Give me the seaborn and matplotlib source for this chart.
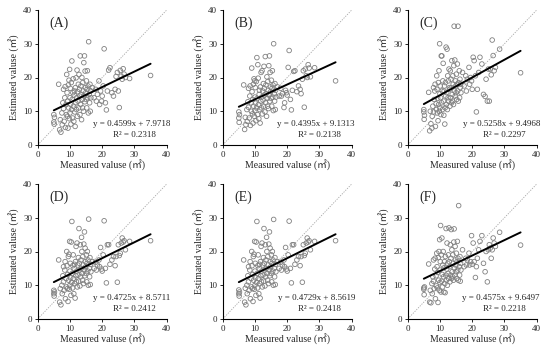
import matplotlib
matplotlib.use("Agg")
import matplotlib.pyplot as plt
import seaborn as sns
import numpy as np
import pandas as pd

# measured value (same for every panel)
measured = [
    5.0, 5.0, 5.1, 5.2,
    6.5, 6.8, 7.0, 7.2, 7.5, 7.6, 7.8, 8.0, 8.0, 8.2, 8.4, 8.5, 8.6, 8.8, 8.9,
    9.0, 9.1, 9.2, 9.3, 9.4, 9.5, 9.6, 9.7, 9.8, 9.9, 10.0, 10.0, 10.1, 10.2, 10.3, 10.4, 10.5, 10.6, 10.7, 10.8, 10.9,
    11.0, 11.1, 11.2, 11.3, 11.4, 11.5, 11.6, 11.7, 11.8, 11.9, 12.0, 12.1, 12.2, 12.3, 12.4, 12.5, 12.6, 12.7, 12.8, 12.9,
    13.0, 13.1, 13.2, 13.3, 13.4, 13.5, 13.6, 13.7, 13.8, 13.9, 14.0, 14.1, 14.2, 14.3, 14.4, 14.5, 14.6, 14.7, 14.8, 14.9,
    15.0, 15.1, 15.2, 15.3, 15.4, 15.5, 15.6, 15.7, 15.8, 16.0, 16.1, 16.2, 16.3, 16.4, 16.5,
    17.0, 17.5, 18.0, 18.2, 18.5, 19.0, 19.2, 19.5, 19.8, 20.0, 20.3, 20.6,
    21.0, 21.3, 21.6, 22.0, 22.4, 23.0, 23.5, 24.0, 24.3, 24.7, 25.0, 25.3,
    25.6, 25.9, 26.2, 26.5, 26.8, 27.2, 28.5,
    35.0,
]

est_a = [
    9.0, 6.8, 6.2, 8.2,
    18.0, 4.5, 7.5, 3.8, 9.5, 6.0, 12.5, 16.5, 10.8, 7.0, 14.0, 17.3, 5.2, 12.0, 9.0,
    20.9, 15.5, 8.5, 13.0, 5.0, 17.8, 11.0, 19.2, 7.8, 22.4, 14.0, 9.5, 16.8, 12.0, 6.2, 18.5, 10.5, 24.9, 13.5, 8.0, 15.5,
    19.6, 11.5, 7.0, 14.8, 16.0, 9.8, 5.5, 17.0, 12.5, 19.9, 10.5, 14.0, 22.2, 8.5, 15.8, 13.0, 18.0, 11.0, 20.9, 16.5,
    14.5, 9.0, 26.4, 12.0, 17.5, 15.0, 7.5, 20.0, 13.5, 11.0, 18.5, 16.0, 10.0, 24.4, 14.5, 26.4, 12.8, 21.9, 17.0, 15.5,
    13.5, 19.0, 11.0, 16.5, 22.0, 14.0, 17.5, 9.5, 30.6, 15.0, 12.5, 18.0, 10.0, 16.0, 14.0,
    17.0, 14.0, 16.5, 13.0, 15.0, 19.0, 12.0, 16.0, 13.0, 14.5, 17.5, 28.5,
    12.5, 10.4, 16.0, 22.2, 22.9, 15.5, 14.5, 16.5, 20.3, 21.5, 16.0, 11.1,
    22.1, 20.4, 19.5, 22.6, 21.0, 20.0, 19.7,
    20.6,
]

est_b = [
    9.8, 8.0, 6.7, 9.0,
    17.8, 4.6, 8.2, 6.0, 10.5, 7.0, 12.8, 16.8, 11.2, 8.0, 14.5, 17.5, 5.8, 12.5, 10.0,
    22.8, 15.8, 9.2, 13.5, 6.5, 18.0, 11.5, 19.6, 8.5, 19.0, 14.2, 10.2, 17.0, 12.4, 7.2, 18.8, 11.0, 25.9, 13.8, 9.0, 23.8,
    19.8, 12.0, 7.8, 15.0, 16.2, 10.5, 6.5, 17.2, 13.0, 21.5, 11.0, 14.2, 22.0, 9.2, 16.0, 13.3, 18.2, 11.5, 23.3, 16.8,
    14.8, 9.8, 26.2, 12.5, 17.8, 15.2, 8.5, 20.2, 13.8, 11.5, 18.8, 16.2, 10.8, 23.5, 14.8, 26.4, 13.0, 21.5, 17.2, 15.8,
    13.8, 19.2, 11.5, 16.8, 22.0, 14.2, 17.8, 10.2, 30.0, 15.2, 13.0, 18.2, 10.5, 16.2, 14.2,
    17.2, 14.5, 16.8, 14.5, 15.2, 11.1, 12.5, 16.2, 15.5, 14.8, 23.0, 28.0,
    13.5, 10.4, 16.2, 21.8, 22.0, 15.8, 17.5, 16.5, 15.2, 19.5, 22.0, 11.2,
    22.5, 20.5, 20.0, 23.8, 22.8, 20.2, 22.9,
    19.0,
]

est_c = [
    10.5, 9.8, 7.6, 8.8,
    15.6, 4.2, 10.0, 6.3, 5.0, 8.5, 11.5, 17.0, 9.8, 13.5, 16.0, 18.0, 5.5, 12.2, 10.5,
    20.5, 16.5, 9.5, 13.8, 7.2, 18.5, 12.0, 22.0, 10.0, 30.0, 15.2, 11.0, 17.5, 14.0, 9.0, 26.4, 12.5, 26.4, 16.0, 10.5, 19.0,
    24.2, 13.0, 8.8, 16.0, 17.5, 6.2, 11.0, 18.5, 14.5, 29.0, 12.0, 15.5, 28.4, 10.5, 20.5, 14.0, 19.0, 13.0, 22.5, 17.0,
    16.5, 11.5, 22.0, 14.0, 19.5, 17.0, 12.5, 25.0, 15.0, 13.0, 20.5, 18.0, 12.0, 23.5, 35.2, 16.0, 25.2, 14.5, 19.0, 17.5,
    15.5, 21.0, 13.5, 18.0, 24.0, 16.0, 35.2, 13.0, 18.5, 22.0, 14.0, 19.5, 17.0, 18.0, 15.5,
    21.5, 17.5, 20.5, 16.0, 19.5, 23.0, 18.0, 20.0, 19.0, 16.5, 26.0, 25.0,
    20.5, 9.8, 16.5, 21.5, 26.0, 24.0, 15.0, 14.4, 19.5, 13.0, 22.5, 13.0,
    22.5, 20.8, 31.1, 26.5, 22.0, 23.0, 28.4,
    21.4,
]

est_d = [
    8.5, 7.5, 6.8, 8.0,
    17.5, 5.0, 9.0, 4.2, 10.0, 7.5, 12.8, 15.5, 11.0, 8.5, 14.5, 17.0, 6.0, 12.0, 9.5,
    20.0, 15.8, 9.0, 13.2, 5.2, 18.5, 11.5, 19.2, 8.8, 23.0, 14.2, 10.0, 16.5, 12.2, 7.0, 22.8, 10.8, 28.9, 13.5, 9.2, 15.8,
    19.0, 12.0, 7.5, 15.0, 16.2, 10.5, 6.2, 17.0, 12.8, 21.5, 11.0, 14.2, 22.5, 9.5, 16.0, 13.0, 18.2, 11.2, 26.8, 16.5,
    14.5, 9.8, 22.0, 12.5, 17.5, 15.0, 24.2, 20.0, 13.5, 11.5, 18.5, 16.0, 10.5, 22.2, 14.5, 25.8, 12.8, 21.0, 17.0, 15.5,
    13.5, 19.0, 11.0, 16.5, 20.0, 14.2, 17.5, 10.0, 29.6, 15.0, 12.5, 18.2, 10.2, 16.2, 14.0,
    17.0, 15.0, 16.8, 14.5, 16.0, 17.5, 15.5, 21.2, 14.8, 14.2, 19.0, 29.1,
    15.0, 10.7, 22.0, 22.0, 16.2, 17.5, 18.5, 15.8, 18.5, 10.9, 22.0, 18.8,
    19.5, 22.5, 24.0, 22.8, 23.2, 20.5, 23.0,
    23.2,
]

est_e = [
    8.6, 7.5, 6.8, 8.0,
    17.5, 5.0, 9.1, 4.2, 10.0, 7.5, 12.8, 15.5, 11.0, 8.5, 14.5, 17.0, 6.0, 12.0, 9.5,
    20.0, 15.8, 9.0, 13.2, 5.2, 18.5, 11.5, 19.2, 8.8, 23.0, 14.2, 10.0, 16.5, 12.2, 7.0, 22.8, 10.8, 28.9, 13.5, 9.2, 15.8,
    19.0, 12.0, 7.5, 15.0, 16.2, 10.5, 6.2, 17.0, 12.8, 21.5, 11.0, 14.2, 22.5, 9.5, 16.0, 13.0, 18.2, 11.2, 26.8, 16.5,
    14.5, 9.8, 22.0, 12.5, 17.5, 15.0, 24.2, 20.0, 13.5, 11.5, 18.5, 16.0, 10.5, 22.2, 14.5, 25.8, 12.8, 21.0, 17.0, 15.5,
    13.5, 19.0, 11.0, 16.5, 20.0, 14.2, 17.5, 10.0, 29.5, 15.0, 12.5, 18.2, 10.2, 16.2, 14.0,
    17.0, 15.0, 16.8, 14.5, 16.0, 17.5, 15.5, 21.2, 14.8, 14.2, 19.0, 29.0,
    15.0, 10.7, 22.0, 22.0, 16.2, 17.5, 18.5, 15.8, 18.5, 10.9, 22.0, 18.8,
    19.5, 22.5, 24.0, 22.8, 23.2, 20.5, 23.0,
    23.2,
]

est_f = [
    9.2, 8.8, 7.2, 9.5,
    16.3, 5.0, 8.5, 4.8, 10.5, 7.5, 12.5, 17.5, 11.2, 9.0, 14.8, 18.0, 6.0, 12.8, 9.8,
    19.5, 15.5, 9.2, 13.8, 4.9, 18.2, 11.5, 20.0, 8.5, 23.5, 14.5, 10.8, 17.0, 27.7, 8.0, 19.0, 11.2, 24.0, 13.2, 9.5, 16.0,
    20.0, 12.5, 8.0, 15.2, 17.0, 10.5, 7.8, 18.5, 13.0, 26.8, 11.5, 14.8, 22.5, 10.0, 16.5, 13.5, 19.0, 12.0, 27.0, 17.0,
    15.5, 11.0, 22.0, 13.0, 18.0, 26.5, 12.0, 20.5, 14.0, 12.5, 19.0, 16.5, 11.5, 22.8, 26.7, 15.0, 13.0, 21.5, 17.5, 16.0,
    14.0, 19.5, 12.0, 17.0, 23.0, 14.5, 18.0, 11.5, 33.6, 15.5, 13.0, 18.5, 11.2, 16.5, 14.5,
    20.5, 15.5, 18.0, 16.0, 17.5, 19.5, 16.0, 17.0, 24.7, 16.2, 22.5, 17.0,
    12.3, 15.5, 18.0, 20.5, 23.0, 24.7, 16.5, 14.0, 20.0, 11.0, 20.5, 22.0,
    21.0, 18.0, 20.5, 24.0, 22.5, 21.5, 25.7,
    21.9,
]

labels = ["(A)", "(B)", "(C)", "(D)", "(E)", "(F)"]
slopes = [0.4599, 0.4395, 0.5258, 0.4725, 0.4729, 0.4575]
intercepts = [7.9718, 9.1313, 9.4968, 8.5711, 8.5619, 9.6497]
r2 = [0.2318, 0.2138, 0.2297, 0.2412, 0.2418, 0.2218]
estimates = [est_a, est_b, est_c, est_d, est_e, est_f]
ticks = [0, 10, 20, 30, 40]

sns.set_style("white")
plt.rcParams['font.family'] = ['Liberation Serif', 'Noto Sans CJK JP']
plt.rcParams['axes.linewidth'] = 0.8

fig = plt.figure(figsize=(5.5, 3.48), dpi=100)

# axes boxes in pixels: left, bottom(from top), width, height
lefts = [37.7, 222.7, 407.7]
tops = [10, 184]
w_px, h_px = 129, 135

for i in range(6):
    r, c = divmod(i, 3)
    l = lefts[c] / 550
    b = 1 - (tops[r] + h_px) / 348
    ax = fig.add_axes([l, b, w_px / 550, h_px / 348])

    df = pd.DataFrame({"measured": measured, "estimated": estimates[i]})

    # 1:1 line
    sns.lineplot(x=[ticks[0], ticks[-1]], y=[ticks[0], ticks[-1]], ax=ax,
                 color="#a6a6a6", linewidth=0.6, linestyle=(0, (1.5, 1.5)))

    sns.scatterplot(data=df, x="measured", y="estimated", ax=ax,
                    color="#808080", s=11, linewidth=0.6, zorder=3)
    pts = ax.collections[-1]
    pts.set_facecolor("none")
    pts.set_edgecolor("#808080")

    xs = np.array([min(measured), max(measured)])
    sns.lineplot(x=xs, y=slopes[i] * xs + intercepts[i], ax=ax,
                 color="black", linewidth=1.4, zorder=4)

    ax.set_xlim(0, 40)
    ax.set_ylim(0, 40)
    ax.set_xticks(ticks)
    ax.set_yticks(ticks)
    ax.tick_params(axis="both", labelsize=6.5, direction="out", length=2.5,
                   width=0.7, pad=1.5, bottom=True, left=True)
    for s in ["top", "right"]:
        ax.spines[s].set_visible(False)
    for s in ["left", "bottom"]:
        ax.spines[s].set_color("black")

    ax.set_xlabel("Measured valuse (㎡)", fontsize=7, labelpad=1)
    ax.set_ylabel("Estimated valuse (㎡)", fontsize=7, labelpad=2)

    ax.text(3.5, 36, labels[i], fontsize=10, ha="left", va="center")
    ax.text(41, 6.2, f"y = {slopes[i]:.4f}x + {intercepts[i]:.4f}",
            fontsize=6.5, ha="right", va="center")
    ax.text(30, 3.0, f"R² = {r2[i]:.4f}", fontsize=6.5, ha="center", va="center")

fig.savefig("out.png", dpi=100)
